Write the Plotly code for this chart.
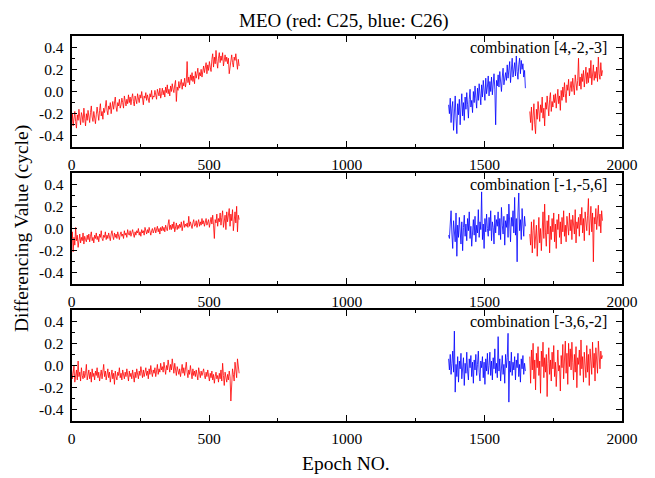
import plotly.graph_objects as go

# ---------------- data ----------------
STEP = 3                      # epoch spacing of the sampled values
RED1_START = 0                # first red arc (C25)
BLUE_START = 1370             # blue arc (C26)
RED2_START = 1665             # second red arc (C25)

x_tick_vals = [0, 500, 1000, 1500, 2000]
x_tick_text = ["0", "500", "1000", "1500", "2000"]
y_tick_vals = [-0.4, -0.2, 0.0, 0.2, 0.4]
y_tick_text = ["-0.4", "-0.2", "0.0", "0.2", "0.4"]

title_text = "MEO (red: C25, blue: C26)"
x_title = "Epoch NO."
y_title = "Differencing Value (cycle)"
combo_labels = ["combination [4,-2,-3]", "combination [-1,-5,6]", "combination [-3,6,-2]"]

# ---- panel 1 : combination [4,-2,-3]
p1_red1 = [
    -0.29, -0.20, -0.31, -0.24, -0.18, -0.27, -0.33, -0.21, -0.26, -0.16,
    -0.25, -0.30, -0.19, -0.22, -0.28, -0.15, -0.24, -0.31, -0.20, -0.26,
    -0.17, -0.24, -0.28, -0.19, -0.13, -0.23, -0.27, -0.18, -0.22, -0.29,
    -0.21, -0.14, -0.20, -0.26, -0.17, -0.11, -0.22, -0.18, -0.25, -0.15,
    -0.19, -0.12, -0.08, -0.17, -0.21, -0.13, -0.16, -0.10, -0.20, -0.14,
    -0.09, -0.16, -0.11, -0.05, -0.14, -0.18, -0.10, -0.13, -0.07, -0.15,
    -0.12, -0.06, -0.10, -0.15, -0.04, -0.09, -0.13, -0.07, -0.11, -0.03,
    -0.10, -0.05, -0.12, -0.06, -0.02, -0.09, -0.13, -0.04, -0.08, -0.11,
    -0.02, -0.07, -0.10, -0.03, -0.06, 0.00, -0.08, -0.12, -0.04, -0.06,
    -0.01, -0.08, -0.03, -0.06, -0.10, -0.02, -0.05, 0.01, -0.07, -0.04,
    -0.05, 0.01, -0.03, -0.07, 0.02, -0.01, -0.04, 0.03, -0.06, -0.02,
    0.03, -0.03, 0.01, -0.05, 0.04, -0.01, 0.06, -0.02, 0.02, -0.04,
    0.05, 0.00, 0.07, 0.02, -0.01, 0.06, 0.10, -0.09, 0.04, 0.01,
    0.09, 0.03, 0.07, 0.11, 0.02, 0.08, 0.05, 0.12, 0.04, 0.09,
    0.27, 0.08, 0.13, 0.06, 0.15, 0.10, 0.17, 0.09, 0.14, 0.07,
    0.18, 0.12, 0.16, 0.21, 0.11, 0.17, 0.14, 0.20, 0.13, 0.18,
    0.23, 0.17, 0.21, 0.26, 0.16, 0.24, 0.19, 0.27, 0.22, 0.18,
    0.29, 0.34, 0.22, 0.31, 0.25, 0.37, 0.27, 0.21, 0.30, 0.35,
    0.26, 0.32, 0.28, 0.35, 0.23, 0.30, 0.33, 0.27, 0.31, 0.25,
    0.30, 0.16, 0.24, 0.29, 0.33, 0.26, 0.22, 0.31, 0.28, 0.34,
    0.25, 0.20, 0.29, 0.23,
]
p1_blue = [
    -0.12, -0.20, -0.06, -0.28, -0.15, -0.09, -0.35, -0.18, -0.04, -0.24,
    -0.38, -0.11, -0.21, -0.07, -0.30, -0.14, -0.02, -0.22, -0.10, -0.26,
    -0.05, -0.16, -0.01, -0.12, -0.24, -0.07, 0.02, -0.14, -0.08, -0.19,
    0.00, -0.10, 0.05, -0.06, -0.15, 0.03, -0.08, 0.07, -0.03, -0.12,
    0.06, -0.05, 0.10, 0.01, -0.08, 0.12, -0.02, 0.04, 0.14, -0.04,
    0.09, 0.00, 0.13, -0.03, 0.07, 0.16, 0.02, -0.30, 0.10, 0.05,
    0.15, 0.04, 0.18, 0.08, 0.00, 0.13, 0.21, 0.06, 0.11, 0.17,
    0.10, 0.24, 0.12, 0.19, 0.27, 0.08, 0.16, 0.30, 0.13, 0.21,
    0.26, 0.14, 0.32, 0.18, 0.11, 0.24, 0.30, 0.16, 0.28, 0.20,
    0.25, 0.13, 0.19, 0.03,
]
p1_red2 = [
    -0.18, -0.28, -0.14, -0.35, -0.22, -0.11, -0.30, -0.38, -0.16, -0.25,
    -0.09, -0.21, -0.27, -0.12, -0.19, -0.05, -0.24, -0.15, -0.31, -0.10,
    -0.16, -0.04, -0.13, -0.22, -0.07, -0.01, -0.18, -0.09, -0.14, -0.03,
    -0.10, -0.02, -0.15, -0.06, 0.02, -0.11, -0.04, -0.17, 0.01, -0.08,
    0.04, -0.05, 0.08, -0.02, -0.10, 0.06, 0.01, 0.11, -0.04, 0.03,
    0.09, 0.00, 0.12, 0.04, -0.03, 0.15, 0.07, 0.01, 0.10, 0.30,
    0.05, 0.13, 0.02, 0.16, 0.09, 0.19, 0.04, 0.11, 0.22, 0.07,
    0.17, 0.08, 0.21, 0.12, 0.28, 0.06, 0.15, 0.24, 0.10, 0.18,
    0.12, 0.22, 0.09, 0.31, 0.16, 0.11, 0.26, 0.14, 0.19,
]

# ---- panel 2 : combination [-1,-5,6]
p2_red1 = [
    -0.12, -0.03, -0.21, -0.08, -0.15, 0.01, -0.11, -0.06, -0.17, -0.09,
    -0.05, -0.13, -0.08, -0.11, -0.04, -0.14, -0.07, -0.10, -0.12, -0.06,
    -0.10, -0.05, -0.12, -0.07, -0.03, -0.11, -0.08, -0.13, -0.06, -0.09,
    -0.04, -0.10, -0.07, -0.12, -0.05, -0.08, -0.02, -0.09, -0.11, -0.06,
    -0.08, -0.03, -0.10, -0.06, -0.09, -0.04, -0.07, -0.11, -0.05, -0.02,
    -0.07, -0.10, -0.04, -0.08, -0.05, -0.09, -0.03, -0.06, -0.10, -0.05,
    -0.03, -0.07, -0.05, -0.09, -0.02, -0.06, -0.04, -0.08, -0.01, -0.05,
    -0.06, -0.02, -0.07, -0.04, -0.01, -0.05, -0.08, -0.03, -0.06, -0.02,
    -0.04, 0.00, -0.06, -0.03, -0.07, -0.01, -0.04, -0.02, -0.06, 0.01,
    -0.03, -0.05, -0.01, -0.04, 0.01, -0.03, -0.06, -0.02, 0.00, -0.04,
    -0.02, 0.01, -0.04, -0.01, 0.02, -0.03, 0.00, -0.05, 0.01, -0.02,
    0.02, -0.02, 0.01, -0.03, 0.03, 0.00, -0.02, 0.04, 0.08, -0.01,
    0.03, -0.01, 0.04, 0.00, 0.06, -0.03, 0.02, 0.05, -0.01, 0.03,
    0.00, 0.04, 0.01, 0.06, -0.02, 0.03, 0.07, 0.01, 0.04, 0.02,
    0.05, 0.01, 0.11, 0.02, 0.06, 0.03, 0.00, 0.05, 0.08, 0.02,
    0.03, 0.07, 0.01, 0.05, 0.08, 0.02, 0.06, 0.03, 0.09, 0.04,
    0.07, 0.02, 0.06, 0.09, 0.03, 0.05, 0.08, 0.01, 0.06, 0.10,
    0.04, 0.12, 0.03, -0.09, 0.08, 0.05, 0.13, 0.02, 0.09, 0.06,
    0.14, 0.03, 0.10, 0.16, 0.01, 0.08, 0.12, -0.01, 0.15, 0.06,
    0.11, 0.18, 0.02, 0.13, 0.07, 0.17, -0.02, 0.10, 0.15, 0.05,
    0.20, -0.03, 0.12, 0.08,
]
p2_blue = [
    -0.06, -0.09, 0.04, 0.16, -0.05, -0.18, 0.07, -0.02, -0.12, 0.14,
    -0.25, 0.03, -0.08, 0.10, -0.03, -0.14, 0.06, -0.20, 0.01, 0.12,
    -0.07, 0.04, -0.11, 0.09, -0.02, 0.15, -0.09, 0.02, -0.16, 0.05,
    0.08, -0.06, 0.11, -0.12, 0.03, -0.04, 0.17, -0.08, 0.06, -0.01,
    0.33, -0.10, 0.04, -0.18, 0.09, -0.03, 0.13, 0.00, -0.07, 0.10,
    -0.02, 0.16, -0.11, 0.06, 0.01, -0.14, 0.12, -0.04, 0.08, 0.02,
    0.15, -0.06, 0.09, -0.10, 0.19, 0.03, -0.05, 0.11, -0.15, 0.07,
    0.01, 0.13, -0.08, 0.22, 0.04, -0.12, 0.10, 0.02, 0.16, -0.04,
    0.28, -0.06, 0.09, -0.30, 0.14, 0.32, -0.02, 0.08, -0.10, 0.18,
    0.04, -0.07, 0.11, 0.02,
]
p2_red2 = [
    -0.05, -0.15, 0.06, -0.22, -0.02, 0.08, -0.18, -0.08, 0.03, -0.25,
    -0.06, 0.10, -0.13, 0.00, -0.20, 0.05, 0.15, -0.09, 0.22, -0.04,
    -0.16, 0.07, -0.05, 0.12, -0.22, 0.02, -0.10, 0.09, -0.03, 0.14,
    -0.12, 0.04, -0.18, 0.08, -0.01, 0.13, -0.08, 0.06, -0.14, 0.10,
    -0.03, 0.16, -0.07, 0.03, -0.12, 0.11, 0.01, -0.06, 0.14, -0.02,
    0.08, -0.10, 0.12, 0.02, -0.05, 0.17, -0.13, 0.06, 0.00, 0.10,
    -0.07, 0.13, 0.03, 0.19, -0.04, 0.09, -0.11, 0.15, 0.05, -0.02,
    0.12, 0.27, -0.06, 0.08, 0.20, -0.03, 0.14, -0.30, 0.10, 0.04,
    0.18, -0.01, 0.09, 0.21, 0.02, 0.13, -0.04, 0.16, 0.07,
]

# ---- panel 3 : combination [-3,6,-2]
p3_red1 = [
    -0.03, -0.12, -0.07, 0.00, -0.15, -0.09, -0.04, -0.13, 0.04, -0.10,
    -0.06, -0.14, -0.02, -0.09, -0.12, -0.05, -0.11, -0.07, 0.01, -0.13,
    -0.08, -0.04, -0.12, -0.06, -0.15, -0.03, -0.10, -0.07, -0.13, -0.05,
    -0.09, -0.02, -0.11, -0.06, -0.14, -0.08, -0.04, -0.12, -0.07, 0.01,
    -0.10, -0.05, -0.13, -0.08, -0.03, -0.11, -0.06, -0.15, -0.09, -0.04,
    -0.12, -0.07, -0.17, -0.05, -0.10, -0.13, -0.06, -0.09, -0.02, -0.11,
    -0.07, -0.13, -0.04, -0.09, -0.12, -0.06, -0.10, -0.03, -0.08, -0.14,
    -0.05, -0.10, -0.07, -0.12, -0.04, -0.09, -0.15, -0.06, -0.11, -0.03,
    -0.08, -0.12, -0.05, -0.09, -0.01, -0.07, -0.11, -0.04, -0.10, -0.06,
    -0.02, -0.09, -0.05, -0.12, -0.03, -0.08, 0.00, -0.06, -0.10, -0.04,
    -0.07, -0.02, -0.10, -0.05, 0.01, -0.08, -0.03, -0.06, 0.02, -0.04,
    -0.01, -0.06, 0.03, -0.03, -0.08, 0.00, -0.04, 0.05, -0.02, -0.06,
    0.01, -0.04, 0.06, -0.02, -0.07, 0.02, -0.03, -0.09, -0.01, -0.05,
    -0.08, -0.03, -0.10, -0.05, 0.01, -0.07, -0.02, -0.09, -0.04, 0.03,
    -0.06, -0.11, -0.04, -0.08, 0.00, -0.07, -0.12, -0.03, -0.09, -0.05,
    -0.10, -0.04, -0.08, -0.13, -0.02, -0.07, -0.11, -0.05, -0.09, -0.06,
    -0.03, -0.09, -0.12, -0.06, -0.10, -0.04, -0.08, -0.14, -0.07, -0.11,
    -0.05, -0.13, -0.08, -0.16, -0.10, -0.06, -0.12, -0.09, -0.15, -0.07,
    -0.12, -0.04, -0.14, 0.02, -0.09, -0.18, -0.06, -0.11, -0.15, -0.08,
    -0.13, -0.05, -0.10, -0.32, -0.12, -0.03, -0.08, -0.14, 0.03, -0.06,
    -0.11, 0.06, -0.02, -0.07,
]
p3_blue = [
    0.06, -0.04, 0.10, -0.08, 0.02, 0.13, -0.06, 0.31, -0.24, 0.01,
    -0.10, 0.08, -0.15, 0.04, -0.03, 0.11, -0.12, -0.01, 0.07, -0.18,
    0.02, -0.07, 0.12, -0.05, -0.13, 0.06, -0.02, 0.09, -0.10, 0.03,
    -0.16, 0.05, -0.04, 0.10, -0.09, 0.01, 0.13, -0.06, -0.14, 0.04,
    -0.02, 0.08, -0.11, 0.03, -0.17, 0.06, -0.05, 0.11, -0.08, 0.00,
    0.12, -0.09, 0.04, -0.13, 0.07, -0.03, 0.15, -0.07, 0.02, -0.11,
    0.26, -0.05, 0.06, -0.14, 0.03, 0.09, -0.08, 0.01, -0.16, 0.10,
    -0.02, 0.07, 0.29, -0.33, 0.04, -0.06, 0.12, -0.09, 0.03, -0.04,
    0.08, -0.13, 0.05, -0.02, 0.11, -0.10, 0.01, -0.15, 0.06, -0.03,
    0.09, -0.08, 0.02, -0.05,
]
p3_red2 = [
    0.08, -0.16, 0.14, -0.04, 0.20, -0.12, 0.05, -0.22, 0.11, -0.02,
    0.17, -0.09, 0.04, -0.25, 0.13, -0.01, 0.21, -0.11, 0.07, -0.06,
    0.10, -0.28, 0.02, 0.16, -0.08, 0.05, -0.14, 0.12, -0.03, 0.18,
    -0.10, 0.03, -0.19, 0.08, 0.14, -0.05, 0.00, -0.23, 0.09, -0.02,
    0.19, -0.12, 0.06, 0.22, -0.07, 0.11, -0.17, 0.20, -0.01, 0.15,
    -0.04, 0.21, 0.03, -0.13, 0.10, -0.06, 0.17, -0.20, 0.07, 0.01,
    0.14, -0.09, 0.23, -0.03, 0.08, -0.15, 0.12, 0.02, -0.11, 0.18,
    -0.06, 0.10, -0.18, 0.15, 0.04, -0.08, 0.21, -0.02, 0.11, -0.14,
    0.16, 0.01, -0.07, 0.22, 0.05, -0.03, 0.13, 0.06, 0.09,
]

panels = [
    (p1_red1, p1_blue, p1_red2),
    (p2_red1, p2_blue, p2_red2),
    (p3_red1, p3_blue, p3_red2),
]

# ---------------- figure ----------------
W, H = 655, 478
FONT = "Liberation Serif, Times New Roman, serif"
RED = "#ff0000"
BLUE = "#0000ff"


def epochs(start, n):
    return [start + STEP * i for i in range(n)]


fig = go.Figure()

left_px, right_px = 71.5, 622
panel_px = [(36, 147), (173, 284), (310, 421)]   # (top, bottom) of each frame

for k, (r1, b, r2) in enumerate(panels):
    ax = "" if k == 0 else str(k + 1)
    for start, vals, col in ((RED1_START, r1, RED), (BLUE_START, b, BLUE), (RED2_START, r2, RED)):
        fig.add_trace(go.Scatter(
            x=epochs(start, len(vals)), y=vals, mode="lines",
            line=dict(color=col, width=0.8),
            xaxis="x" + ax, yaxis="y" + ax, showlegend=False, hoverinfo="skip",
        ))
    top, bot = panel_px[k]
    common = dict(
        showline=True, linecolor="black", linewidth=1.6, mirror="allticks",
        ticks="inside", ticklen=6, tickwidth=1.4, tickcolor="black",
        showgrid=False, zeroline=False, fixedrange=True, automargin=False,
        tickfont=dict(family=FONT, size=15.5, color="black"),
    )
    fig.layout["xaxis" + ax] = dict(
        domain=[left_px / W, right_px / W], anchor="y" + ax, range=[0, 2000],
        tickmode="array", tickvals=x_tick_vals, ticktext=x_tick_text,
        ticklabelstandoff=3,
        minor=dict(ticks="inside", ticklen=3.5, tickwidth=1.2, tickcolor="black",
                   tick0=0, dtick=250, showgrid=False),
        **common,
    )
    fig.layout["yaxis" + ax] = dict(
        domain=[1 - bot / H, 1 - top / H], anchor="x" + ax, range=[-0.5, 0.5],
        tickmode="array", tickvals=y_tick_vals, ticktext=y_tick_text,
        ticklabelstandoff=3,
        minor=dict(ticks="inside", ticklen=3.5, tickwidth=1.2, tickcolor="black",
                   tick0=0, dtick=0.1, showgrid=False),
        **common,
    )

annotations = [
    dict(text=title_text, x=344 / W, y=1 - 21 / H, xref="paper", yref="paper",
         xanchor="center", yanchor="middle", showarrow=False,
         font=dict(family=FONT, size=19, color="black")),
    dict(text=y_title, x=22 / W, y=1 - 229 / H, xref="paper", yref="paper",
         xanchor="center", yanchor="middle", showarrow=False, textangle=-90,
         font=dict(family=FONT, size=19.5, color="black")),
    dict(text=x_title, x=346 / W, y=1 - 463 / H, xref="paper", yref="paper",
         xanchor="center", yanchor="middle", showarrow=False,
         font=dict(family=FONT, size=19.5, color="black")),
]
for k, lab in enumerate(combo_labels):
    top, _ = panel_px[k]
    annotations.append(dict(
        text=lab, x=609 / W, y=1 - (top + 11) / H, xref="paper", yref="paper",
        xanchor="right", yanchor="middle", showarrow=False,
        font=dict(family=FONT, size=16, color="black")))

fig.update_layout(
    template="none",
    width=W, height=H, autosize=False,
    margin=dict(l=0, r=0, t=0, b=0, pad=0, autoexpand=False),
    paper_bgcolor="white", plot_bgcolor="white", showlegend=False,
    annotations=annotations,
)

fig.write_html(
    "out.html",
    config=dict(responsive=False, displayModeBar=False),
    post_script=(
        "document.documentElement.style.overflow='hidden';"
        "document.body.style.margin='0';document.body.style.overflow='hidden';"
    ),
)
